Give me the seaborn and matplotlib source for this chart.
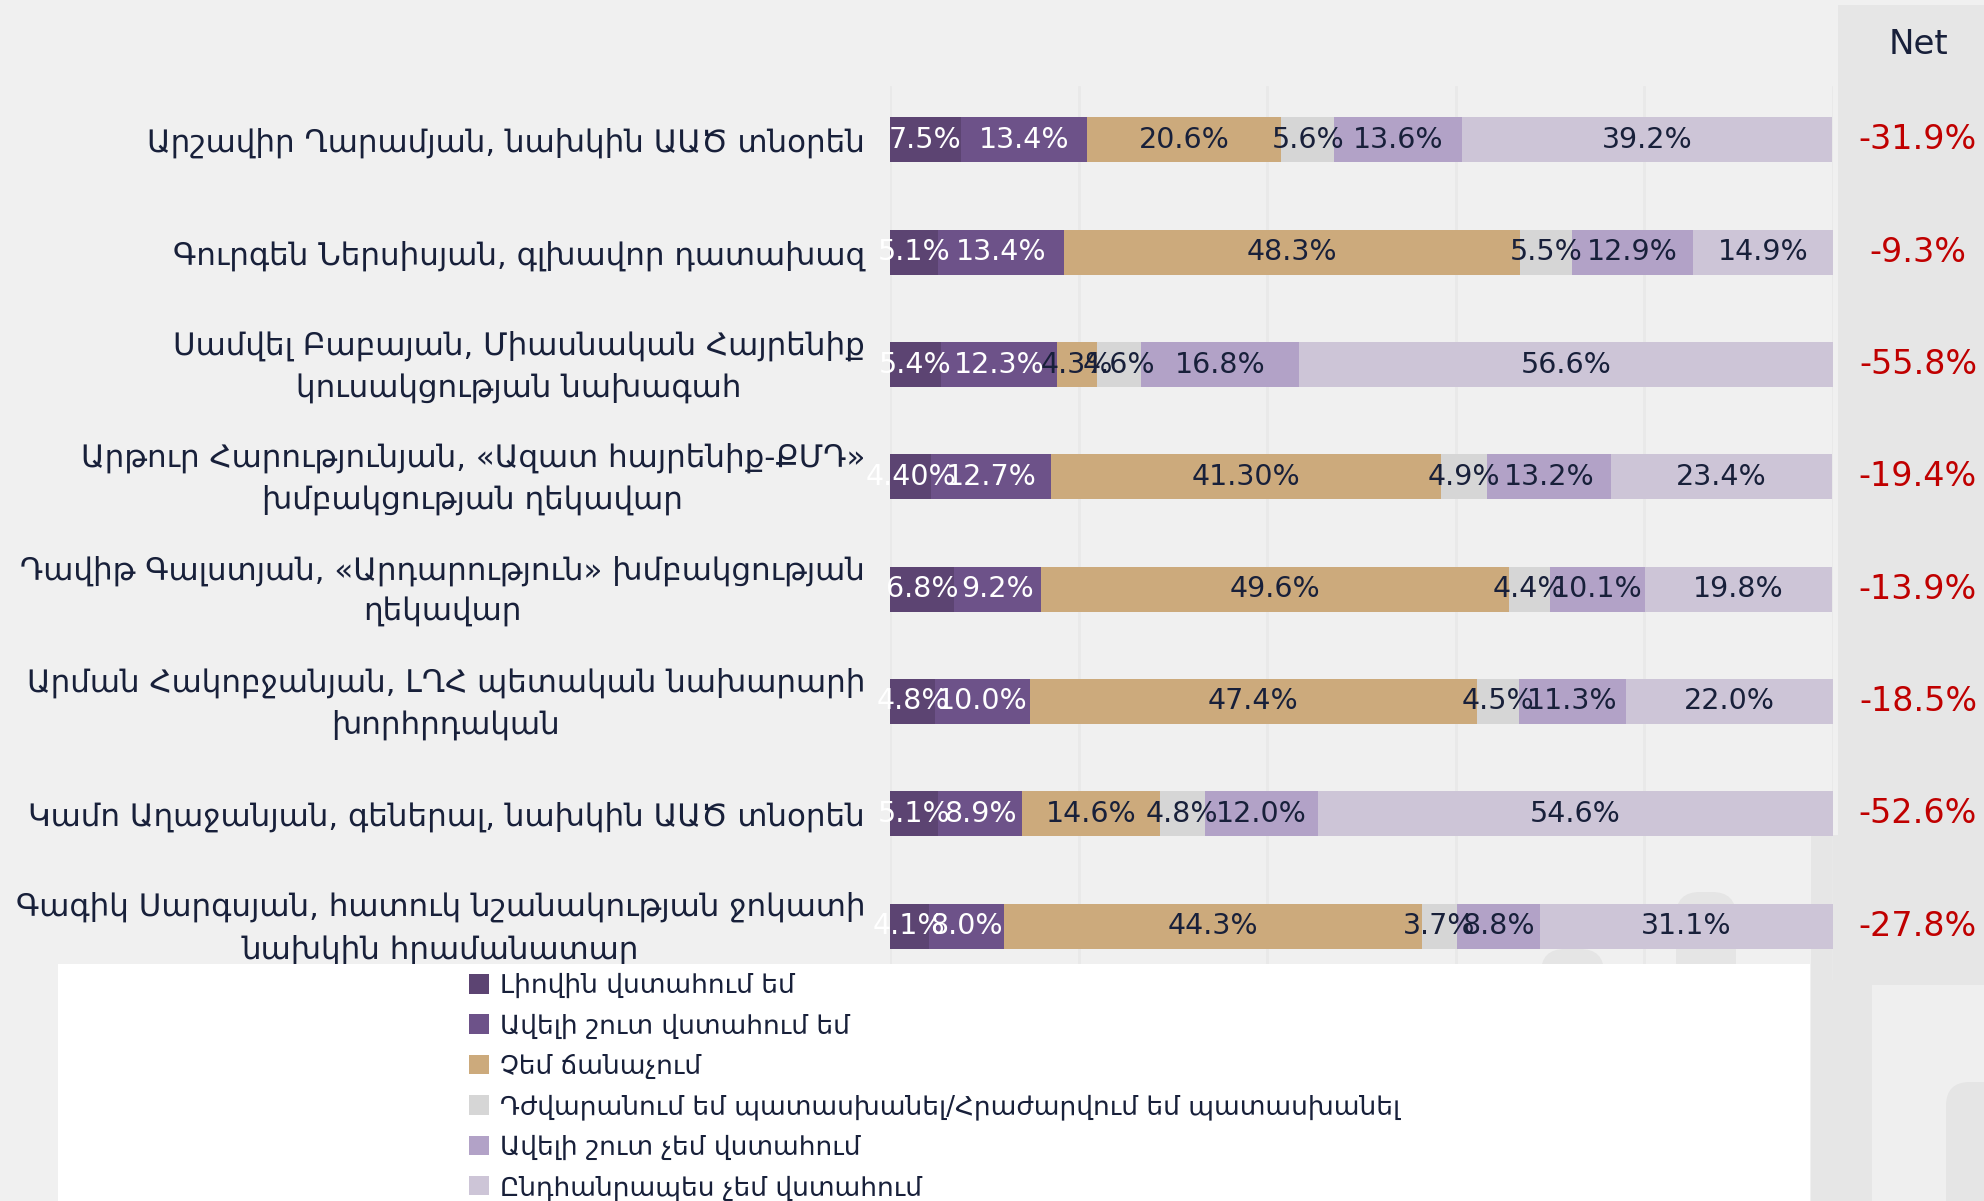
import numpy as np
import pandas as pd
import matplotlib
matplotlib.use("Agg")
import matplotlib.pyplot as plt
import matplotlib.transforms as mtransforms
from matplotlib.patches import Rectangle, FancyBboxPatch, Patch
import seaborn as sns

sns.set_style("white")
plt.rcParams["font.family"] = ["DejaVu Sans"]

# ---- data -------------------------------------------------------------
names = [
    "Արշավիր Ղարամյան, նախկին ԱԱԾ տնօրեն",
    "Գուրգեն Ներսիսյան, գլխավոր դատախազ",
    "Սամվել Բաբայան, Միասնական Հայրենիք\nկուսակցության նախագահ",
    "Արթուր Հարությունյան, «Ազատ հայրենիք-ՔՄԴ»\nխմբակցության ղեկավար",
    "Դավիթ Գալստյան, «Արդարություն» խմբակցության\nղեկավար",
    "Արման Հակոբջանյան, ԼՂՀ պետական նախարարի\nխորհրդական",
    "Կամո Աղաջանյան, գեներալ, նախկին ԱԱԾ տնօրեն",
    "Գագիկ Սարգսյան, հատուկ նշանակության ջոկատի\nնախկին հրամանատար",
]

series_names = [
    "Լիովին վստահում եմ",
    "Ավելի շուտ վստահում եմ",
    "Չեմ ճանաչում",
    "Դժվարանում եմ պատասխանել/Հրաժարվում եմ պատասխանել",
    "Ավելի շուտ չեմ վստահում",
    "Ընդհանրապես չեմ վստահում",
]

fully_trust     = ["7.5", "5.1", "5.4", "4.40", "6.8", "4.8", "5.1", "4.1"]
rather_trust    = ["13.4", "13.4", "12.3", "12.7", "9.2", "10.0", "8.9", "8.0"]
dont_know       = ["20.6", "48.3", "4.3", "41.30", "49.6", "47.4", "14.6", "44.3"]
hard_to_say     = ["5.6", "5.5", "4.6", "4.9", "4.4", "4.5", "4.8", "3.7"]
rather_distrust = ["13.6", "12.9", "16.8", "13.2", "10.1", "11.3", "12.0", "8.8"]
fully_distrust  = ["39.2", "14.9", "56.6", "23.4", "19.8", "22.0", "54.6", "31.1"]
net             = ["-31.9", "-9.3", "-55.8", "-19.4", "-13.9", "-18.5", "-52.6", "-27.8"]

series_values = [fully_trust, rather_trust, dont_know,
                 hard_to_say, rather_distrust, fully_distrust]

colors = ["#5c4472", "#6d5289", "#ccaa7c", "#d6d6d6", "#b2a2c7", "#cdc5d7"]
label_colors = ["white", "white", "#18203a", "#18203a", "#18203a", "#18203a"]

# ---- table ------------------------------------------------------------
df = pd.DataFrame({"name": names})
for k, vals in enumerate(series_values):
    df[f"v{k}"] = [float(v) for v in vals]
cum = df[[f"v{k}" for k in range(6)]].cumsum(axis=1).to_numpy()
for k in range(6):
    df[f"c{k}"] = cum[:, k]

# ---- figure -----------------------------------------------------------
W, H = 1984, 1201
BG = "#f0f0f0"
fig = plt.figure(figsize=(W / 100, H / 100), dpi=100, facecolor=BG)
ax = fig.add_axes([890 / W, 1 - 980 / H, (1833 - 890) / W, (980 - 86) / H])
ax.set_facecolor("none")

def fx(px):
    return px / W

def fy(py):
    return 1 - py / H

# background panels behind the chart
fig.patches.append(Rectangle((fx(1838), 0), fx(W - 1838), fy(5), transform=fig.transFigure,
                             facecolor="#e6e6e6", edgecolor="none", zorder=-3))
fig.patches.append(Rectangle((fx(1811), 0), fx(27), fy(835), transform=fig.transFigure,
                             facecolor="#e6e6e6", edgecolor="none", zorder=-3))
fig.patches.append(Rectangle((fx(1872), 0), fx(W - 1872), fy(985), transform=fig.transFigure,
                             facecolor="#efefef", edgecolor="none", zorder=-2))
for x0, x1, y0, y1 in [(1541, 1604, 949, 1010), (1676, 1736, 892, 1010), (1946, 2010, 1082, 1260)]:
    fig.patches.append(FancyBboxPatch((fx(x0), fy(y1)), fx(x1 - x0), fy(y0) - fy(y1),
                                      boxstyle="round,pad=0,rounding_size=0.012",
                                      transform=fig.transFigure, mutation_aspect=W / H,
                                      facecolor="#e5e5e5", edgecolor="none", zorder=-1))

# stacked bars: draw cumulative totals from the longest down
for k in reversed(range(6)):
    sns.barplot(data=df, x=f"c{k}", y="name", orient="h", color=colors[k],
                saturation=1, width=0.4, errorbar=None, linewidth=0, ax=ax)

# segment labels
for k in range(6):
    for i in range(len(names)):
        centre = df.loc[i, f"c{k}"] - df.loc[i, f"v{k}"] / 2
        ax.text(centre, i, f"{series_values[k][i]}%", ha="center", va="center",
                fontsize=20.5, color=label_colors[k], zorder=5)

ax.set_xlim(0, 100)
ax.set_ylim(7.48, -0.48)
ax.set_xticks(np.arange(0, 101, 20))
ax.tick_params(axis="x", length=0, labelbottom=False)
ax.tick_params(axis="y", which="major", length=0, pad=18, labelsize=22.2, labelcolor="#18203a")
ax.set_yticks(np.arange(0.5, 7.5, 1), minor=True)
ax.tick_params(axis="y", which="minor", length=9.5, width=1.5, color="#e6e6e6")
lift = mtransforms.ScaledTranslation(0, 7 / 100, fig.dpi_scale_trans)
for lab in ax.get_yticklabels():
    lab.set_multialignment("center")
    if "\n" in lab.get_text():
        lab.set_linespacing(1.5)
        lab.set_transform(lab.get_transform() + lift)
ax.grid(axis="x", color="#e9e9e9", linewidth=2)
ax.set_axisbelow(True)
ax.set_xlabel("")
ax.set_ylabel("")
for s in ax.spines.values():
    s.set_visible(False)

# net column
trans = mtransforms.blended_transform_factory(fig.transFigure, ax.transData)
for i, v in enumerate(net):
    ax.text(fx(1918), i, f"{v}%", transform=trans, ha="center", va="center",
            fontsize=24, color="#c00000", clip_on=False)
fig.text(fx(1918), fy(44), "Net", ha="center", va="center", fontsize=24.5, color="#18203a")

# legend on a white panel
fig.patches.append(Rectangle((fx(58), 0), fx(1810 - 58), fy(964), transform=fig.transFigure,
                             facecolor="white", edgecolor="none", zorder=2))
handles = [Patch(facecolor=c, edgecolor="none") for c in colors]
fig.legend(handles, series_names, loc="upper left",
           bbox_to_anchor=(fx(469), fy(973)), frameon=False, fontsize=19,
           handlelength=0.76, handleheight=0.76, handletextpad=0.42,
           labelspacing=0.545, borderpad=0, borderaxespad=0, labelcolor="#18203a")

fig.savefig("out.png", dpi=100, facecolor=BG)
